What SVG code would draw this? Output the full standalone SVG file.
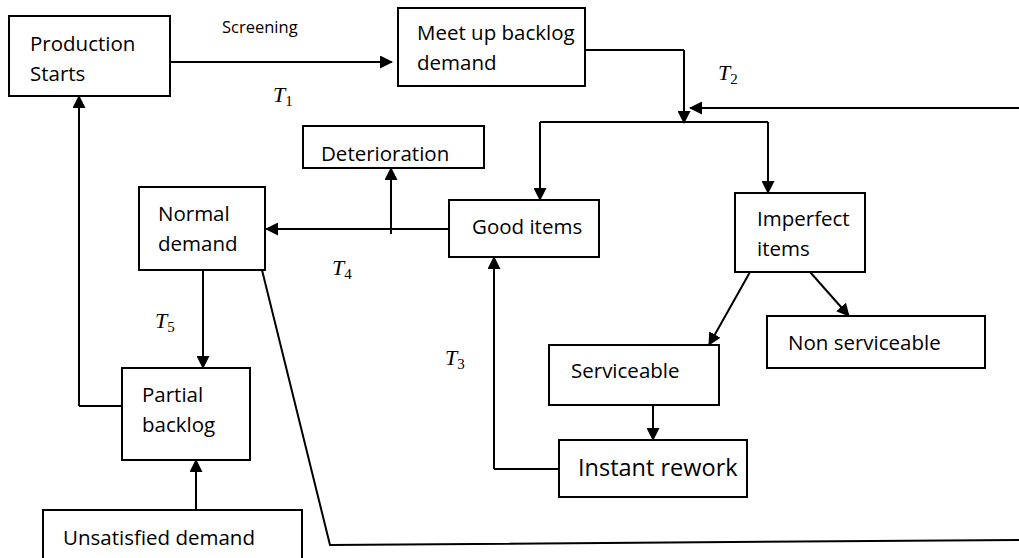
<svg xmlns="http://www.w3.org/2000/svg" width="1019" height="558" viewBox="0 0 1019 558">
<style>
.box{fill:#fff;stroke:#000;stroke-width:2}
.lbl{font-family:"Open Sans","Liberation Sans",sans-serif;font-size:20.5px;fill:#000}
.sm{font-size:16.5px}
.big{font-size:23.5px}
.t{font-family:"Liberation Serif","DejaVu Serif",serif;font-style:italic;font-size:22px;fill:#000}
.sub{font-style:normal;font-size:15px}
.ln{fill:none;stroke:#000;stroke-width:2}
.ar{fill:none;stroke:#000;stroke-width:2;marker-end:url(#ah)}
</style>
<defs>
<marker id="ah" markerWidth="13" markerHeight="13" refX="12" refY="6.5" orient="auto" markerUnits="userSpaceOnUse">
<path d="M0,0 L13,6.5 L0,13 Z" fill="#000"/>
</marker>
</defs>
<rect width="1019" height="558" fill="#fff"/>
<g id="connectors">
<path class="ar" d="M170,62 H392"/>
<path class="ln" d="M585,50 H684"/>
<path class="ar" d="M684,50 V123"/>
<path class="ar" d="M1019,108 H690"/>
<path class="ln" d="M540,122 H768"/>
<path class="ar" d="M540,122 V200"/>
<path class="ar" d="M768,122 V193"/>
<path class="ar" d="M449,229 H266"/>
<path class="ar" d="M391,234 V168"/>
<path class="ar" d="M750,272 L709,345"/>
<path class="ar" d="M810,272 L849,316"/>
<path class="ar" d="M653,405 V440"/>
<path class="ln" d="M559,469 H494"/>
<path class="ar" d="M494,469 V257"/>
<path class="ar" d="M203,270 V368"/>
<path class="ln" d="M122,406 H79"/>
<path class="ar" d="M79,406 V96"/>
<path class="ar" d="M196,510 V460"/>
<path class="ln" d="M262,270 L330,545 L1019,540"/>
<text class="lbl sm" x="222" y="33">Screening</text>
<text class="t" x="273" y="102">T<tspan class="sub" dy="4">1</tspan></text>
<text class="t" x="718" y="80">T<tspan class="sub" dy="4">2</tspan></text>
<text class="t" x="445" y="365">T<tspan class="sub" dy="4">3</tspan></text>
<text class="t" x="332" y="275">T<tspan class="sub" dy="4">4</tspan></text>
<text class="t" x="155" y="328">T<tspan class="sub" dy="4">5</tspan></text>
</g>
<g id="production-starts">
<rect class="box" x="9" y="16" width="161" height="80"/>
<text class="lbl" x="30" y="51">Production</text>
<text class="lbl" x="30" y="81">Starts</text>
</g>
<g id="meet-up-backlog">
<rect class="box" x="398" y="8" width="187" height="78"/>
<text class="lbl" x="417" y="40">Meet up backlog</text>
<text class="lbl" x="417" y="70">demand</text>
</g>
<g id="deterioration">
<rect class="box" x="303" y="126" width="181" height="42"/>
<text class="lbl" x="321" y="161">Deterioration</text>
</g>
<g id="normal-demand">
<rect class="box" x="139" y="187" width="126" height="83"/>
<text class="lbl" x="158" y="221">Normal</text>
<text class="lbl" x="158" y="251">demand</text>
</g>
<g id="good-items">
<rect class="box" x="449" y="200" width="150" height="57"/>
<text class="lbl" x="472" y="234">Good items</text>
</g>
<g id="imperfect-items">
<rect class="box" x="735" y="193" width="130" height="79"/>
<text class="lbl" x="757" y="226">Imperfect</text>
<text class="lbl" x="757" y="256">items</text>
</g>
<g id="non-serviceable">
<rect class="box" x="767" y="316" width="218" height="52"/>
<text class="lbl" x="788" y="350">Non serviceable</text>
</g>
<g id="serviceable">
<rect class="box" x="549" y="345" width="170" height="60"/>
<text class="lbl" x="571" y="378">Serviceable</text>
</g>
<g id="instant-rework">
<rect class="box" x="559" y="440" width="188" height="57"/>
<text class="lbl big" x="578" y="476">Instant rework</text>
</g>
<g id="partial-backlog">
<rect class="box" x="122" y="368" width="128" height="92"/>
<text class="lbl" x="142" y="402">Partial</text>
<text class="lbl" x="142" y="432">backlog</text>
</g>
<g id="unsatisfied-demand">
<rect class="box" x="43" y="510" width="259" height="50"/>
<text class="lbl" x="63" y="545">Unsatisfied demand</text>
</g>
</svg>
